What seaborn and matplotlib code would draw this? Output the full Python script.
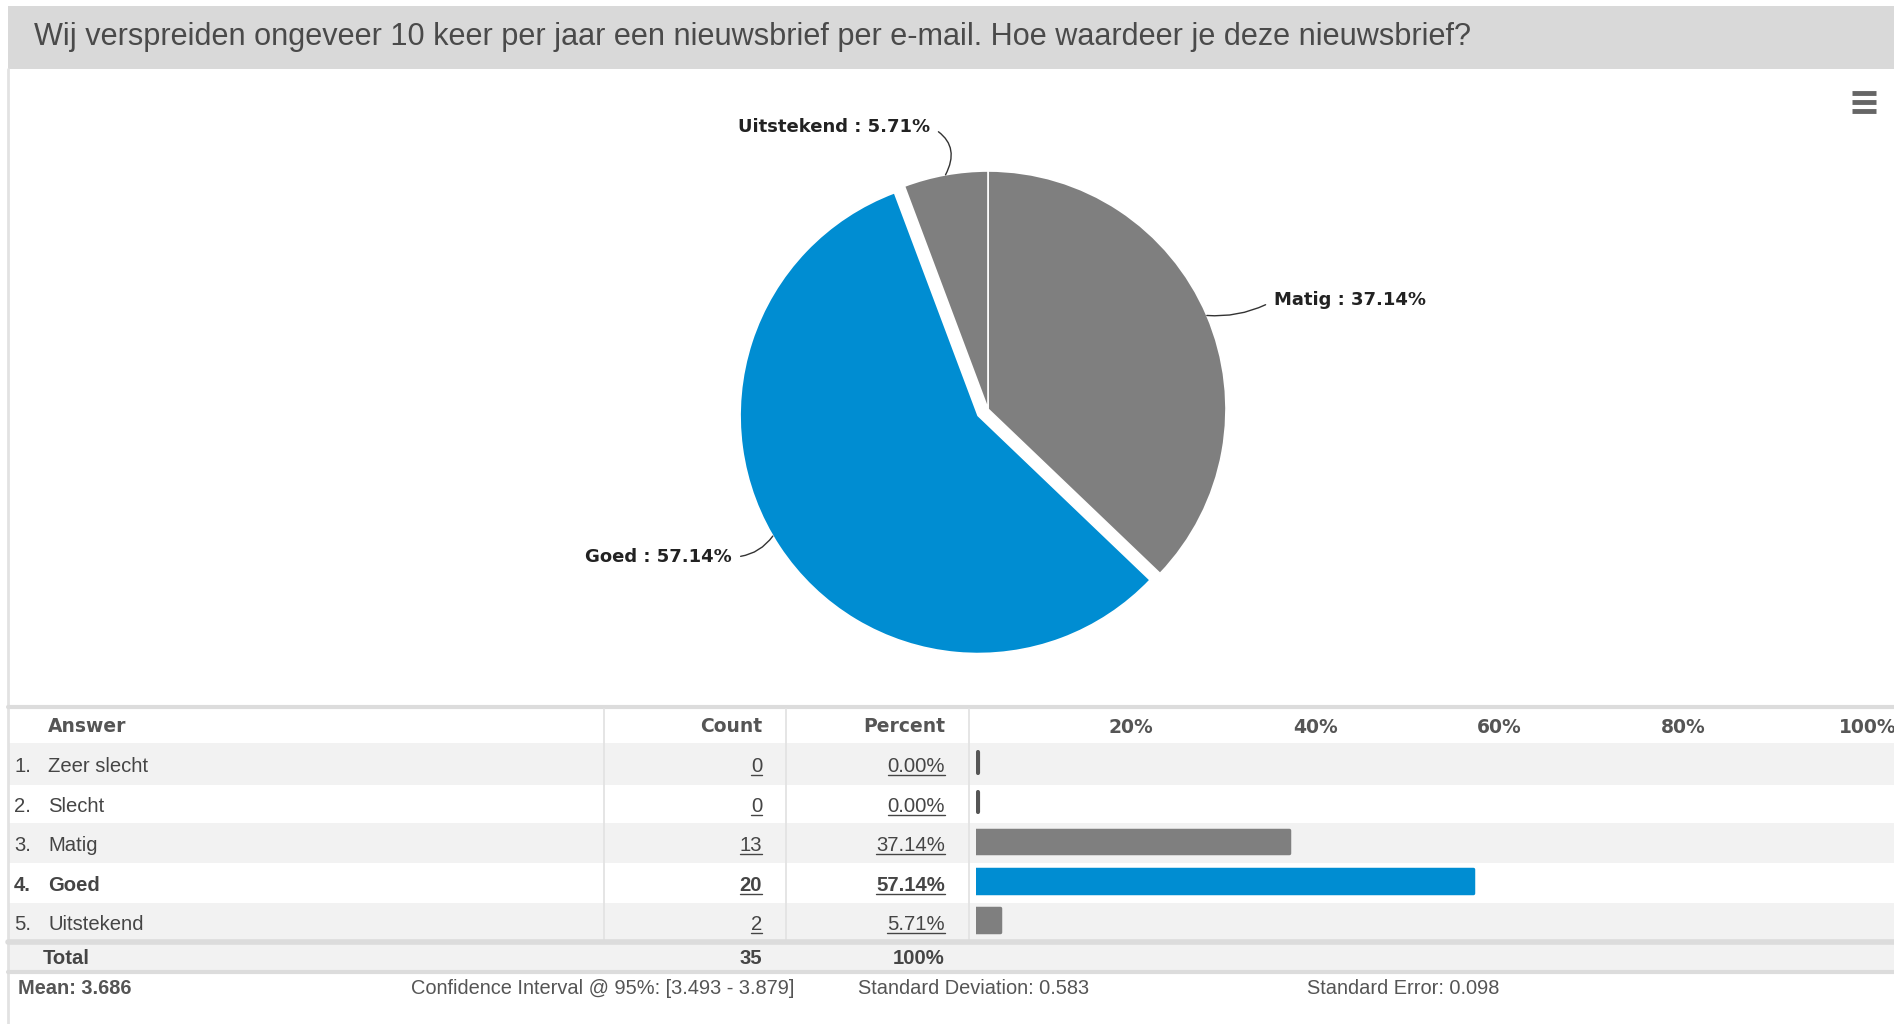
import numpy as np
import matplotlib
matplotlib.use("Agg")
import matplotlib.pyplot as plt
import seaborn as sns
import pandas as pd
from matplotlib.patches import Rectangle

# ---------------- data ----------------
title = "Wij verspreiden ongeveer 10 keer per jaar een nieuwsbrief per e-mail. Hoe waardeer je deze nieuwsbrief?"
answers = ["Zeer slecht", "Slecht", "Matig", "Goed", "Uitstekend"]
counts = [0, 0, 13, 20, 2]
percents = [0.00, 0.00, 37.14, 57.14, 5.71]
total_label = "Total"
total_count = "35"
total_pct = "100%"
pie_labels = ["Matig", "Goed", "Uitstekend"]
pie_values = [37.14, 57.14, 5.71]
axis_ticks = [20, 40, 60, 80, 100]
header = ["Answer", "Count", "Percent"]
stats = ["Mean: 3.686",
         "Confidence Interval @ 95%: [3.493 - 3.879]",
         "Standard Deviation: 0.583",
         "Standard Error: 0.098"]

# ---------------- style ----------------
W, H = 1894, 1024
GRAY = "#7f7f7f"
BLUE = "#008dd2"
TXT = "#454545"
ROWBG = "#f2f2f2"
LINE = "#dcdcdc"
bar_palette = {"Zeer slecht": "#666666", "Slecht": "#666666", "Matig": GRAY,
               "Goed": BLUE, "Uitstekend": GRAY}
pie_colors = [GRAY, BLUE, GRAY]

sns.set_theme(style="white")
plt.rcParams["font.family"] = ["DejaVu Sans"]
ARIAL = ["Liberation Sans", "DejaVu Sans"]

fig = plt.figure(figsize=(W / 100, H / 100), dpi=100)
fig.patch.set_facecolor("white")


def ax_rect(x0, y0, x1, y1):
    return [x0 / W, 1 - y1 / H, (x1 - x0) / W, (y1 - y0) / H]


# background / overlay axes in pixel coordinates (y downward)
bg = fig.add_axes([0, 0, 1, 1], zorder=0)
bg.set_xlim(0, W)
bg.set_ylim(H, 0)
bg.axis("off")

# title bar
bg.add_patch(Rectangle((8, 6), W - 8, 63, color="#d9d9d9", lw=0))
bg.text(34, 37, title, fontsize=22.1, color="#4a4a4a", family=ARIAL,
        ha="left", va="center")
# left border
bg.plot([8, 8], [69, H], color="#e2e2e2", lw=2)
# hamburger
for yy in (93, 102, 111):
    bg.plot([1852, 1876], [yy, yy], color="#666666", lw=3.5, solid_capstyle="butt")

# table geometry
row_top = [743, 785, 823, 863, 903]
row_bot = [785, 823, 863, 903, 940]
row_y = [(a + b) / 2 + 2.5 for a, b in zip(row_top, row_bot)]
x_num, x_ans, x_cnt, x_pct = 14, 48, 762, 945

bg.plot([8, W], [707, 707], color=LINE, lw=3)
for i, (a, b) in enumerate(zip(row_top, row_bot)):
    if i % 2 == 0:
        bg.add_patch(Rectangle((9, a), W - 9, b - a, color=ROWBG, lw=0))
for xv in (604, 786, 969):
    bg.plot([xv, xv], [709, 940], color="#e3e3e3", lw=1.3)
bg.plot([8, W], [942, 942], color=LINE, lw=4)
bg.add_patch(Rectangle((9, 944), W - 9, 26, color=ROWBG, lw=0))
bg.plot([8, W], [972, 972], color=LINE, lw=3)

# header
hy = 727
for txt, xx, ha in zip(header, (x_ans, x_cnt, x_pct), ("left", "right", "right")):
    bg.text(xx, hy, txt, fontsize=13.5, fontweight="bold", color="#555555",
            ha=ha, va="center")

underlined = []
top_count = max(counts)
FS = 14.6
for i, (ans, c, p) in enumerate(zip(answers, counts, percents)):
    fw = "bold" if c == top_count else "normal"
    y = row_y[i]
    bg.text(x_num, y, f"{i + 1}.", fontsize=FS, family=ARIAL, color=TXT,
            fontweight=fw, ha="left", va="center")
    bg.text(x_ans, y, ans, fontsize=FS, family=ARIAL, color=TXT,
            fontweight=fw, ha="left", va="center")
    t1 = bg.text(x_cnt, y, f"{c}", fontsize=FS, family=ARIAL, color=TXT,
                 fontweight=fw, ha="right", va="center")
    t2 = bg.text(x_pct, y, f"{p:.2f}%", fontsize=FS, family=ARIAL, color=TXT,
                 fontweight=fw, ha="right", va="center")
    underlined += [(t1, y), (t2, y)]

ty = 958
bg.text(43, ty, total_label, fontsize=FS, family=ARIAL, color=TXT,
        fontweight="bold", ha="left", va="center")
bg.text(x_cnt, ty, total_count, fontsize=FS, family=ARIAL, color=TXT,
        fontweight="bold", ha="right", va="center")
bg.text(x_pct, ty, total_pct, fontsize=FS, family=ARIAL, color=TXT,
        fontweight="bold", ha="right", va="center")

fy = 988
stat_x = [18, 411, 858, 1307]
for j, (s, sx) in enumerate(zip(stats, stat_x)):
    bg.text(sx, fy, s, fontsize=14.4, family=ARIAL, color="#555555",
            fontweight="bold" if j == 0 else "normal", ha="left", va="center")

# ---------------- pie ----------------
cx, cy, R = 988, 409, 238
axp = fig.add_axes(ax_rect(cx - 1.25 * R, cy - 1.25 * R, cx + 1.25 * R, cy + 1.25 * R),
                   zorder=2)
axp.set_facecolor("none")
explode = [0.05 if v == max(pie_values) else 0 for v in pie_values]
wedges, _ = axp.pie(pie_values, colors=pie_colors, startangle=90, counterclock=False,
                    explode=explode, radius=1.0,
                    wedgeprops=dict(edgecolor="white", linewidth=1.2))
axp.set_xlim(-1.25, 1.25)
axp.set_ylim(-1.25, 1.25)
axp.set_aspect("equal")
axp.axis("off")

label_offsets = {"Matig": (67, 15, "left", -0.15, 0.0),
                 "Goed": (-41, -21, "right", 0.25, 3.0),
                 "Uitstekend": (-15, 48, "right", -0.5, 0.0)}
for w, lab, val in zip(wedges, pie_labels, pie_values):
    dx, dy, ha, rad, dth = label_offsets[lab]
    th = np.deg2rad((w.theta1 + w.theta2) / 2 - dth)
    ex, ey = w.center[0] + w.r * np.cos(th), w.center[1] + w.r * np.sin(th)
    axp.annotate(f"{lab} : {val:.2f}%", xy=(ex, ey), xytext=(dx, dy),
                 textcoords="offset pixels", ha=ha, va="center",
                 fontsize=13, fontweight="bold", color="#222222",
                 arrowprops=dict(arrowstyle="-", color="#333333", lw=1,
                                 shrinkA=4, shrinkB=0,
                                 relpos=(1, 0.5) if ha == "right" else (0, 0.5),
                                 connectionstyle=f"arc3,rad={rad}"))

# ---------------- bars ----------------
axb = fig.add_axes(ax_rect(976, 743, W, 940), zorder=1)
axb.set_facecolor("none")
df = pd.DataFrame({"answer": answers, "percent": percents})
sns.barplot(data=df, x="percent", y="answer", hue="answer", palette=bar_palette,
            order=answers, hue_order=answers, orient="h", width=0.6,
            legend=False, ax=axb, saturation=1)
for patch in axb.patches:
    patch.set_edgecolor(patch.get_facecolor())
    patch.set_linewidth(2.5)
    patch.set_joinstyle("round")
x0 = 3.15
axb.set_xlim(x0, 102.9)
axb.set_ylim(len(answers) - 0.5, -0.5)
for i, p in enumerate(percents):
    if p == 0:
        axb.plot([x0 + 0.25, x0 + 0.25], [i - 0.26, i + 0.26], color="#555555",
                 lw=3, solid_capstyle="round")
axb.xaxis.tick_top()
axb.set_xticks(axis_ticks)
axb.set_xticklabels([f"{t}%" for t in axis_ticks], fontsize=13.5,
                    fontweight="bold", color="#555555")
axb.tick_params(axis="x", length=0, pad=4)
axb.set_yticks([])
axb.set_xlabel("")
axb.set_ylabel("")
axb.grid(False)
for sp in axb.spines.values():
    sp.set_visible(False)

# underline the linked numbers
fig.canvas.draw()
rend = fig.canvas.get_renderer()
for t, y in underlined:
    bb = t.get_window_extent(rend)
    bg.plot([bb.x0, bb.x1], [y + 8.5, y + 8.5], color=TXT, lw=1)

fig.savefig("out.png", dpi=100, facecolor="white")
